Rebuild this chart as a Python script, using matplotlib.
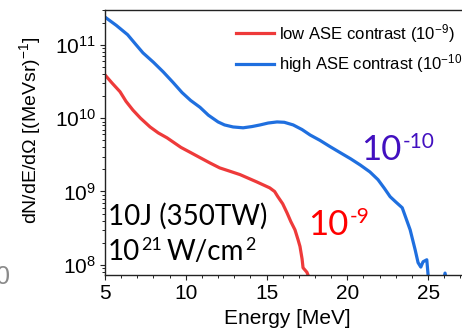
import numpy as np
import matplotlib
matplotlib.use("Agg")
import matplotlib.pyplot as plt
from matplotlib.ticker import LogLocator, LogFormatterMathtext, MultipleLocator, NullFormatter

plt.rcParams['font.family'] = ['Liberation Sans', 'DejaVu Sans']
plt.rcParams['mathtext.fontset'] = 'custom'
plt.rcParams['mathtext.rm'] = 'Liberation Sans'
plt.rcParams['mathtext.it'] = 'Liberation Sans:italic'
plt.rcParams['mathtext.bf'] = 'Liberation Sans:bold'

# ---- data ----
energy_high = [5.0, 5.7, 6.4, 6.9, 7.35, 8.0, 8.6, 9.2, 9.77, 10.3, 10.88, 11.4, 12.0, 12.4,
               12.93, 13.55, 14.1, 14.6, 15.1, 15.65, 16.1, 16.65, 17.2, 17.7, 18.3, 18.93,
               19.55, 20.2, 20.8, 21.4, 21.9, 22.3, 22.65, 23.0, 23.4, 23.89, 24.2, 24.38,
               24.55, 24.69, 24.92, 25.0, 25.1, 25.5, 25.85, 26.05, 26.25]
dnde_high = [2.4e11, 1.85e11, 1.38e11, 1.02e11, 7.8e10, 5.8e10, 4.3e10, 3.1e10, 2.24e10,
             1.75e10, 1.41e10, 1.1e10, 8.9e9, 8.1e9, 7.6e9, 7.4e9, 7.7e9, 8.1e9, 8.6e9,
             8.9e9, 8.8e9, 8.1e9, 7.0e9, 5.9e9, 5.0e9, 4.1e9, 3.4e9, 2.8e9, 2.3e9, 1.85e9,
             1.45e9, 1.1e9, 8.5e8, 7.2e8, 6.0e8, 3.0e8, 1.6e8, 1.07e8, 9.3e7, 1.1e8, 1.17e8,
             7.3e7, 4.5e7, 4.0e7, 4.5e7, 7.7e7, 4.5e7]

energy_low = [5.0, 5.45, 5.93, 6.3, 6.73, 7.2, 7.79, 8.3, 8.84, 9.7, 10.3, 10.88, 11.5, 12.1,
              12.7, 13.36, 14.4, 15.2, 15.5, 15.7, 16.0, 16.27, 16.5, 16.76, 16.95, 17.07,
              17.2, 17.26, 17.5, 17.65]
dnde_low = [3.9e10, 3.0e10, 2.3e10, 1.7e10, 1.29e10, 1.0e10, 7.6e9, 6.3e9, 5.4e9, 4.0e9,
            3.4e9, 2.9e9, 2.45e9, 2.1e9, 1.9e9, 1.7e9, 1.35e9, 1.12e9, 1.0e9, 8.5e8, 6.8e8,
            5.1e8, 3.9e8, 3.0e8, 2.2e8, 1.78e8, 1.2e8, 9.1e7, 7.9e7, 6.5e7]

label_low = 'low ASE contrast (10$^{-9}$)'
label_high = 'high ASE contrast (10$^{-10}$)'
x_ticks = [5, 10, 15, 20, 25]

W, H = 462, 328
fig = plt.figure(figsize=(W / 100, H / 100), dpi=100)
ax = fig.add_axes([105 / W, (H - 275) / H, (W - 105) / W, (275 - 10) / H])

red = '#EE3A3A'
blue = '#1F6FDF'
ax.plot(energy_low, dnde_low, color=red, lw=2.3, label=label_low, solid_joinstyle='round')
ax.plot(energy_high, dnde_high, color=blue, lw=2.3, label=label_high, solid_joinstyle='round')

ax.set_yscale('log')
ax.set_xlim(5, 27.1)
ax.set_ylim(7.25e7, 3.0e11)
ax.set_xticks(x_ticks)
ax.xaxis.set_minor_locator(MultipleLocator(1))
ax.yaxis.set_major_locator(LogLocator(base=10))
ax.yaxis.set_major_formatter(LogFormatterMathtext())
ax.yaxis.set_minor_locator(LogLocator(base=10, subs=np.arange(2, 10)))
ax.yaxis.set_minor_formatter(NullFormatter())

ax.tick_params(which='major', direction='out', length=3.5, width=0.8, labelsize=15, pad=3, color='#222222')
ax.tick_params(which='minor', direction='out', length=2, width=0.7, color='#222222')
for s in ['left', 'bottom', 'top']:
    ax.spines[s].set_linewidth(1.0)
    ax.spines[s].set_color('#222222')
ax.spines['right'].set_visible(False)

fig.text(30 / W, 1 - 130 / H, 'dN/dE/dΩ [(MeVsr)$^{-1}$]', rotation=90, ha='center', va='center', fontsize=14)
fig.text(287 / W, 1 - 318 / H, 'Energy [MeV]', ha='center', va='center', fontsize=15)

leg = ax.legend(loc='upper left', bbox_to_anchor=(236 / W, 1 - 22 / H), bbox_transform=fig.transFigure,
                frameon=False, fontsize=12, handlelength=2.3, handletextpad=0.3, labelspacing=0.45,
                borderpad=0, borderaxespad=0)

big = ['Lato', 'DejaVu Sans']
renderer = fig.canvas.get_renderer()

def fx(px):
    return px / W
def fy(py):
    return 1 - py / H

def chain(x0, base_y, parts, color):
    """parts: list of (text, fontsize, raise_px, gap_px)"""
    x = x0
    for txt, size, rise, gap in parts:
        x += gap
        t = fig.text(fx(x), fy(base_y - rise), txt, fontsize=size, family=big,
                     va='baseline', ha='left', color=color)
        bb = t.get_window_extent(renderer=renderer)
        x = bb.x1

fig.text(fx(108), fy(225), '10J (350TW)', fontsize=20, family=big, va='baseline', ha='left', color='black')
chain(108, 260, [('10', 20, 0, 0), ('21', 13, 10, 1), ('W/cm', 20, 0, 5), ('2', 13, 10, 1)], 'black')

purple = '#4210C0'
chain(361, 160, [('10', 25, 0, 0), ('-10', 15, 12, 1)], purple)
chain(308, 235, [('10', 25, 0, 0), ('-9', 15, 12, 1)], '#FF0000')

fig.text(fx(-4), fy(284), '0', fontsize=18, color='#8a8a8a', va='baseline', ha='left')

fig.savefig('out.png', dpi=100)
